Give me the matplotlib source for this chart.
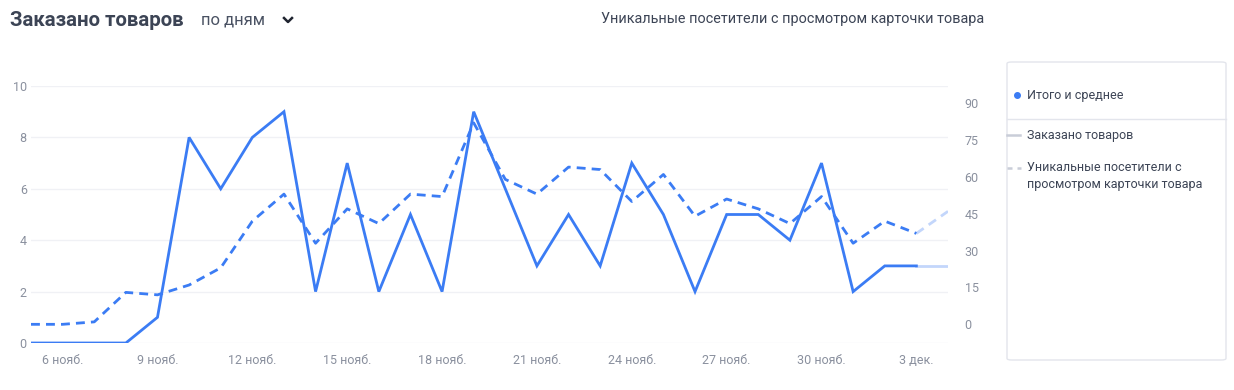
import matplotlib
matplotlib.use("Agg")
import matplotlib.pyplot as plt
from matplotlib.patches import FancyBboxPatch
from matplotlib.lines import Line2D

plt.rcParams['font.family'] = ['Roboto', 'DejaVu Sans']

dates = ["5 нояб.", "6 нояб.", "7 нояб.", "8 нояб.", "9 нояб.", "10 нояб.", "11 нояб.", "12 нояб.",
         "13 нояб.", "14 нояб.", "15 нояб.", "16 нояб.", "17 нояб.", "18 нояб.", "19 нояб.", "20 нояб.",
         "21 нояб.", "22 нояб.", "23 нояб.", "24 нояб.", "25 нояб.", "26 нояб.", "27 нояб.", "28 нояб.",
         "29 нояб.", "30 нояб.", "1 дек.", "2 дек.", "3 дек.", "4 дек."]
ordered = [0, 0, 0, 0, 1, 8, 6, 8, 9, 2, 7, 2, 5, 2, 9, 6, 3, 5, 3, 7, 5, 2, 5, 5, 4, 7, 2, 3, 3, 3]
visitors = [0, 0, 1, 13, 12, 16, 23, 42, 53, 33, 47, 41, 53, 52, 82, 59, 53, 64, 63, 50, 61, 44, 51, 47,
            41, 52, 33, 42, 37, 46]
xtick_labels = ["6 нояб.", "9 нояб.", "12 нояб.", "15 нояб.", "18 нояб.", "21 нояб.", "24 нояб.",
                "27 нояб.", "30 нояб.", "3 дек."]
left_ticks = [0, 2, 4, 6, 8, 10]
right_ticks = [0, 15, 30, 45, 60, 75, 90]

BLUE = "#3b7cf4"
LIGHT = "#c3d6fb"
GRAY = "#8a909e"
GRID = "#f0f1f5"

W, H = 1234, 390
fig = plt.figure(figsize=(W / 100, H / 100), dpi=100)

def fx(px):
    return px / W

def fy(py):
    return 1 - py / H

ax = fig.add_axes([fx(31), fy(343), fx(948 - 31), (343 - 86) / H])
ax2 = ax.twinx()

x = list(range(len(dates)))
n = len(dates)
ax.plot(x[:n - 1], ordered[:n - 1], color=BLUE, lw=2, solid_joinstyle='miter', zorder=3)
ax.plot(x[n - 2:], ordered[n - 2:], color=LIGHT, lw=2, zorder=2)
ax2.plot(x[:n - 1], visitors[:n - 1], color=BLUE, lw=2, ls=(0, (3.2, 2.2)), zorder=3)
ax2.plot(x[n - 2:], visitors[n - 2:], color=LIGHT, lw=2, ls=(0, (3.2, 2.2)), zorder=2)

ax.set_xlim(0, n - 1)
ax.set_ylim(0, 10)
ax2.set_ylim(-7.6, 97)
ax.set_yticks(left_ticks)
ax.set_yticklabels([str(v) for v in left_ticks])
ax2.set_yticks(right_ticks)
ax2.set_yticklabels([str(v) for v in right_ticks])
ax.set_xticks([dates.index(l) for l in xtick_labels])
ax.set_xticklabels(xtick_labels)

ax.grid(axis='y', color=GRID, lw=1)
ax.set_axisbelow(True)
for a in (ax, ax2):
    for s in a.spines.values():
        s.set_visible(False)
    a.tick_params(length=0, colors=GRAY, labelsize=9)
ax.tick_params(axis='y', pad=3)
ax.tick_params(axis='x', pad=8)
ax2.tick_params(axis='y', pad=12)
for lab in ax.get_yticklabels():
    lab.set_horizontalalignment('right')
ax.patch.set_visible(False)

# header
fig.text(fx(10), fy(20), "Заказано товаров", fontsize=14.7, fontweight='bold', color="#3c4455",
         va='center', ha='left')
fig.text(fx(201), fy(20), "по дням", fontsize=12, color="#4a5263", va='center', ha='left')
fig.add_artist(Line2D([fx(284), fx(288), fx(292)], [fy(18), fy(22), fy(18)], color="#1f2430", lw=1.8))
fig.text(fx(601), fy(19), "Уникальные посетители с просмотром карточки товара", fontsize=10.4,
         color="#3c4455", va='center', ha='left')

# legend box
box = FancyBboxPatch((fx(1007), fy(360)), fx(1226 - 1007), (360 - 62) / H,
                     boxstyle="round,pad=0,rounding_size=0.004", transform=fig.transFigure,
                     facecolor='white', edgecolor="#e3e5ec", lw=1)
fig.add_artist(box)
fig.add_artist(Line2D([fx(1007), fx(1226)], [fy(119), fy(119)], color="#e3e5ec", lw=1))
fig.add_artist(Line2D([fx(1017)], [fy(95)], marker='o', markersize=4, color=BLUE, lw=0))
fig.text(fx(1027), fy(95), "Итого и среднее", fontsize=9, color="#3c4455", va='center', ha='left')
fig.add_artist(Line2D([fx(1007), fx(1020)], [fy(135), fy(135)], color="#c9cdd8", lw=1.8))
fig.text(fx(1027), fy(135), "Заказано товаров", fontsize=9, color="#3c4455", va='center', ha='left')
fig.add_artist(Line2D([fx(1007), fx(1021)], [fy(168), fy(168)], color="#c9cdd8", lw=1.8,
                      ls=(0, (2, 2))))
fig.text(fx(1027), fy(176), "Уникальные посетители с\nпросмотром карточки товара", fontsize=9,
         color="#3c4455", va='center', ha='left', linespacing=1.35)

fig.savefig("out.png", dpi=100, facecolor='white')
